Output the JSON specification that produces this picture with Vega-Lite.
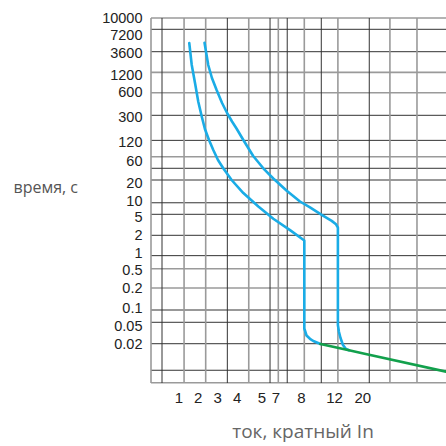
{
  "$schema": "https://vega.github.io/schema/vega-lite/v6.json",
  "autosize": {"type": "none"},
  "padding": {"left": 151, "top": 18, "right": 0, "bottom": 63},
  "width": 295,
  "height": 365,
  "config": {"view": {"stroke": null}},
  "datasets": {
    "curves": [
      {"series": "c1", "i": 1, "x": 1.56, "t": 5700},
      {"series": "c1", "i": 2, "x": 1.69, "t": 2360},
      {"series": "c1", "i": 3, "x": 1.86, "t": 940},
      {"series": "c1", "i": 4, "x": 2.03, "t": 490},
      {"series": "c1", "i": 5, "x": 2.21, "t": 304},
      {"series": "c1", "i": 6, "x": 2.37, "t": 216},
      {"series": "c1", "i": 7, "x": 2.58, "t": 139.5},
      {"series": "c1", "i": 8, "x": 2.8, "t": 96.7},
      {"series": "c1", "i": 9, "x": 3.04, "t": 64.2},
      {"series": "c1", "i": 10, "x": 3.31, "t": 47.3},
      {"series": "c1", "i": 11, "x": 3.74, "t": 26},
      {"series": "c1", "i": 12, "x": 4.27, "t": 14.65},
      {"series": "c1", "i": 13, "x": 4.88, "t": 8.43},
      {"series": "c1", "i": 14, "x": 6.69, "t": 4.79},
      {"series": "c1", "i": 15, "x": 7.57, "t": 2.87},
      {"series": "c1", "i": 16, "x": 8.4, "t": 1.72},
      {"series": "c1", "i": 17, "x": 8.4, "t": 0.0464},
      {"series": "c1", "i": 18, "x": 8.67, "t": 0.035},
      {"series": "c1", "i": 19, "x": 9.09, "t": 0.0296},
      {"series": "c1", "i": 20, "x": 9.49, "t": 0.026},
      {"series": "c1", "i": 21, "x": 10.36, "t": 0.0211},
      {"series": "c2", "i": 1, "x": 2.35, "t": 5760},
      {"series": "c2", "i": 2, "x": 2.54, "t": 2360},
      {"series": "c2", "i": 3, "x": 2.73, "t": 1113},
      {"series": "c2", "i": 4, "x": 2.97, "t": 697},
      {"series": "c2", "i": 5, "x": 3.25, "t": 473.5},
      {"series": "c2", "i": 6, "x": 3.52, "t": 343},
      {"series": "c2", "i": 7, "x": 3.76, "t": 268.6},
      {"series": "c2", "i": 8, "x": 3.99, "t": 219.8},
      {"series": "c2", "i": 9, "x": 4.27, "t": 139.5},
      {"series": "c2", "i": 10, "x": 4.67, "t": 77.2},
      {"series": "c2", "i": 11, "x": 5.28, "t": 47.3},
      {"series": "c2", "i": 12, "x": 6.69, "t": 28.7},
      {"series": "c2", "i": 13, "x": 7.44, "t": 15.88},
      {"series": "c2", "i": 14, "x": 7.96, "t": 10},
      {"series": "c2", "i": 15, "x": 9.09, "t": 8.17},
      {"series": "c2", "i": 16, "x": 10.51, "t": 5.83},
      {"series": "c2", "i": 17, "x": 11.72, "t": 4.43},
      {"series": "c2", "i": 18, "x": 12.57, "t": 3.85},
      {"series": "c2", "i": 19, "x": 13.1, "t": 3.28},
      {"series": "c2", "i": 20, "x": 13.1, "t": 0.0537},
      {"series": "c2", "i": 21, "x": 13.41, "t": 0.0407},
      {"series": "c2", "i": 22, "x": 13.84, "t": 0.0309},
      {"series": "c2", "i": 23, "x": 14.54, "t": 0.0199},
      {"series": "c2", "i": 24, "x": 15.39, "t": 0.0183},
      {"series": "c2", "i": 25, "x": 16.24, "t": 0.0178},
      {"series": "inst", "i": 1, "x": 10.36, "t": 0.0211},
      {"series": "inst", "i": 2, "x": 16.24, "t": 0.0178},
      {"series": "inst", "i": 3, "x": 20, "t": 0.0166},
      {"series": "inst", "i": 4, "x": 50, "t": 0.00933}
    ],
    "vgrid": [
      {"x": 0, "s": "g"}, {"x": 0.4, "s": "d"}, {"x": 1.29, "s": "g"}, {"x": 2.41, "s": "g"},
      {"x": 3.52, "s": "d"}, {"x": 4.49, "s": "g"}, {"x": 6.23, "s": "d"}, {"x": 7.11, "s": "g"},
      {"x": 7.46, "s": "d"}, {"x": 8.4, "s": "g"}, {"x": 10.46, "s": "d"}, {"x": 13.1, "s": "g"},
      {"x": 22.5, "s": "d"}, {"x": 29.9, "s": "g"}, {"x": 39.6, "s": "g"}
    ],
    "hgrid": [
      {"t": 10000, "s": "g"}, {"t": 8170, "s": "d"}, {"t": 4010, "s": "d"}, {"t": 1550, "s": "g"},
      {"t": 600, "s": "g"}, {"t": 321, "s": "d"}, {"t": 137, "s": "d"}, {"t": 75, "s": "g"},
      {"t": 47.3, "s": "d"}, {"t": 26, "s": "d"}, {"t": 9.6, "s": "d"}, {"t": 6, "s": "d"},
      {"t": 2, "s": "d"}, {"t": 0.94, "s": "d"}, {"t": 0.54, "s": "g"}, {"t": 0.2, "s": "g"},
      {"t": 0.0963, "s": "d"}, {"t": 0.0614, "s": "d"}, {"t": 0.0216, "s": "d"}, {"t": 0.0099, "s": "d"},
      {"t": 0.005, "s": "g"}
    ]
  },
  "layer": [
    {
      "data": {"name": "hgrid"},
      "mark": {"type": "rule"},
      "encoding": {
        "y": {"field": "t", "type": "quantitative",
          "scale": {"type": "linear", "zero": false, "nice": false,
            "domain": [0.005, 0.01, 0.02, 0.05, 0.1, 0.2, 0.5, 1, 2, 5, 10, 20, 60, 120, 300, 600, 1200, 3600, 7200, 10000],
            "range": [364.7, 352, 326.7, 308.3, 290.7, 270, 252, 235.7, 217.3, 199.5, 183.5, 165.3, 143.3, 124.8, 99, 74.8, 57.5, 35.8, 17.3, 0]},
          "axis": {"values": [0.02, 0.05, 0.1, 0.2, 0.5, 1, 2, 5, 10, 20, 60, 120, 300, 600, 1200, 3600, 7200, 10000],
            "labelExpr": "'' + datum.value", "grid": false, "domain": false, "ticks": false, "labelPadding": 9,
            "labelOverlap": false, "labelFlush": false, "labelFont": "Liberation Sans", "labelFontSize": 14.5, "labelColor": "#222",
            "title": "время, с", "titleAngle": 0, "titleX": -138, "titleY": 174, "titleAlign": "left", "titleBaseline": "alphabetic",
            "titleFont": "Open Sans", "titleFontSize": 16, "titleFontWeight": "normal", "titleColor": "#555"}},
        "color": {"field": "s", "type": "nominal", "scale": {"domain": ["d", "g"], "range": ["#333333", "#9a9a9a"]}, "legend": null},
        "strokeWidth": {"field": "s", "type": "ordinal", "scale": {"domain": ["d", "g"], "range": [1, 1.6]}, "legend": null}
      }
    },
    {
      "data": {"name": "vgrid"},
      "mark": {"type": "rule"},
      "encoding": {
        "x": {"field": "x", "type": "quantitative",
          "scale": {"type": "linear", "zero": false, "nice": false,
            "domain": [0, 1, 2, 3, 4, 5, 7, 8, 12, 20, 50],
            "range": [0, 27.5, 46.7, 66.2, 85.7, 110.3, 124.5, 150, 183, 211.3, 295]},
          "axis": {"values": [1, 2, 3, 4, 5, 7, 8, 12, 20],
            "labelExpr": "'' + datum.value", "grid": false, "domain": false, "ticks": false, "labelPadding": 7,
            "labelOverlap": false, "labelFlush": false, "labelFont": "Liberation Sans", "labelFontSize": 15, "labelColor": "#222",
            "title": "ток, кратный In", "titleX": 151.5, "titleY": 54, "titleAlign": "center", "titleBaseline": "alphabetic",
            "titleFont": "Open Sans", "titleFontSize": 19, "titleFontWeight": "normal", "titleColor": "#666"}},
        "color": {"field": "s", "type": "nominal", "scale": {"domain": ["d", "g"], "range": ["#333333", "#9a9a9a"]}, "legend": null},
        "strokeWidth": {"field": "s", "type": "ordinal", "scale": {"domain": ["d", "g"], "range": [1, 1.6]}, "legend": null}
      }
    },
    {
      "data": {"name": "curves"},
      "mark": {"type": "line", "strokeWidth": 2.6, "strokeCap": "round", "strokeJoin": "round"},
      "encoding": {
        "x": {"field": "x", "type": "quantitative",
          "scale": {"type": "linear", "zero": false, "nice": false,
            "domain": [0, 1, 2, 3, 4, 5, 7, 8, 12, 20, 50],
            "range": [0, 27.5, 46.7, 66.2, 85.7, 110.3, 124.5, 150, 183, 211.3, 295]},
          "axis": {"values": [1, 2, 3, 4, 5, 7, 8, 12, 20],
            "labelExpr": "'' + datum.value", "grid": false, "domain": false, "ticks": false, "labelPadding": 7,
            "labelOverlap": false, "labelFlush": false, "labelFont": "Liberation Sans", "labelFontSize": 15, "labelColor": "#222",
            "title": "ток, кратный In", "titleX": 151.5, "titleY": 54, "titleAlign": "center", "titleBaseline": "alphabetic",
            "titleFont": "Open Sans", "titleFontSize": 19, "titleFontWeight": "normal", "titleColor": "#666"}},
        "y": {"field": "t", "type": "quantitative",
          "scale": {"type": "linear", "zero": false, "nice": false,
            "domain": [0.005, 0.01, 0.02, 0.05, 0.1, 0.2, 0.5, 1, 2, 5, 10, 20, 60, 120, 300, 600, 1200, 3600, 7200, 10000],
            "range": [364.7, 352, 326.7, 308.3, 290.7, 270, 252, 235.7, 217.3, 199.5, 183.5, 165.3, 143.3, 124.8, 99, 74.8, 57.5, 35.8, 17.3, 0]},
          "axis": {"values": [0.02, 0.05, 0.1, 0.2, 0.5, 1, 2, 5, 10, 20, 60, 120, 300, 600, 1200, 3600, 7200, 10000],
            "labelExpr": "'' + datum.value", "grid": false, "domain": false, "ticks": false, "labelPadding": 9,
            "labelOverlap": false, "labelFlush": false, "labelFont": "Liberation Sans", "labelFontSize": 14.5, "labelColor": "#222",
            "title": "время, с", "titleAngle": 0, "titleX": -138, "titleY": 174, "titleAlign": "left", "titleBaseline": "alphabetic",
            "titleFont": "Open Sans", "titleFontSize": 16, "titleFontWeight": "normal", "titleColor": "#555"}},
        "order": {"field": "i", "type": "quantitative"},
        "detail": {"field": "series", "type": "nominal"},
        "color": {"field": "series", "type": "nominal", "scale": {"domain": ["c1", "c2", "inst"], "range": ["#1aace6", "#1aace6", "#12a04c"]}, "legend": null}
      }
    }
  ],
  "resolve": {"scale": {"color": "independent", "strokeWidth": "independent"}}
}
